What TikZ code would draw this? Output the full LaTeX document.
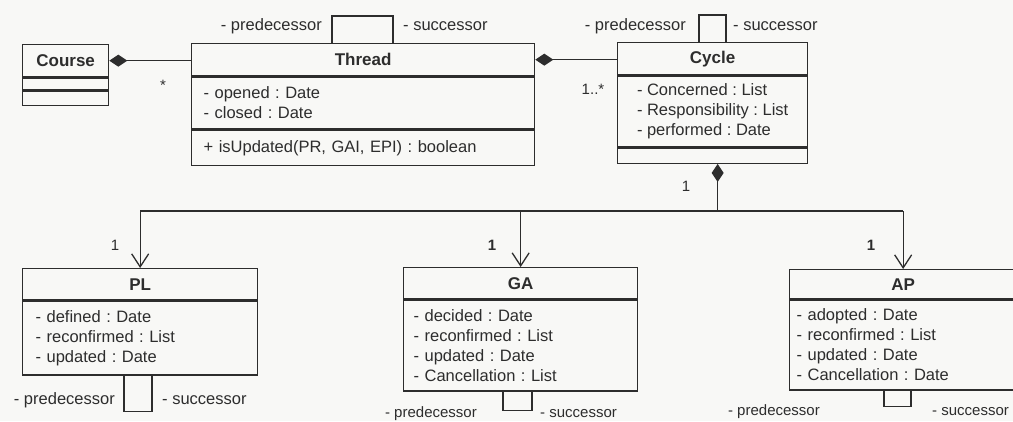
\documentclass[tikz,border=0pt]{standalone}
\usepackage{fontspec}
\setmainfont{Liberation Sans}
\usetikzlibrary{arrows.meta,calc}
\frenchspacing
\definecolor{ink}{RGB}{45,45,45}
\definecolor{paper}{RGB}{248,248,246}
\newcommand\umlattr{\fontsize{16.5}{20}\selectfont}
\newcommand\umltitle{\fontsize{17}{20}\selectfont\bfseries}
\newcommand\umlrole{\fontsize{16.5}{20}\selectfont}
\newcommand\umlrolesmall{\fontsize{15}{18}\selectfont}
\begin{document}
\begin{tikzpicture}[x=1pt,y=-1pt,
  every node/.style={text=ink},
  box/.style={draw=ink, line width=1.3pt, anchor=north west, inner sep=0pt},
  ttl/.style={box, font=\umltitle},
  att/.style={box, font=\umlattr, align=left},
  role/.style={font=\umlrole, inner sep=0pt},
  rolesm/.style={font=\umlrolesmall, inner sep=0pt},
  mult/.style={font=\fontsize{15}{18}\selectfont, inner sep=0pt},
  line/.style={draw=ink, line width=1.3pt},
  comp/.style={line, {Diamond[length=18pt,width=12pt]}-},
  nav/.style={line, -{Straight Barb[length=13pt,width=17pt]}},
]
\fill[paper] (0,0) rectangle (1013,421);
\useasboundingbox (0,0) rectangle (1013,421);
\clip (0,0) rectangle (1013,421);

% Course
\node[ttl, minimum width=86pt, minimum height=32pt] (courseT) at (22,44) {Course};
\node[box, minimum width=86pt, minimum height=12pt] (courseA) at (courseT.south west) {};
\node[box, minimum width=86pt, minimum height=14pt] (courseO) at (courseA.south west) {};

% Thread
\node[ttl, minimum width=343pt, minimum height=32pt] (threadT) at (191,43) {Thread};
\node[att, minimum width=343pt, minimum height=52pt, text width=319pt] (threadA) at (threadT.south west)
  {- opened : Date\\- closed : Date};
\node[att, minimum width=343pt, minimum height=35pt, text width=319pt] (threadO) at (threadA.south west)
  {+ isUpdated(PR, GAI, EPI) : boolean};

% Cycle
\node[ttl, minimum width=190pt, minimum height=32pt] (cycleT) at (617,42) {Cycle};
\node[att, minimum width=190pt, minimum height=71pt] (cycleA) at (cycleT.south west)
  {- Concerned : List\\- Responsibility : List\\- performed : Date};
\node[box, minimum width=190pt, minimum height=15pt] (cycleO) at (cycleA.south west) {};

% PL
\node[ttl, minimum width=235pt, minimum height=31pt] (plT) at (22,268) {PL};
\node[att, minimum width=235pt, minimum height=74pt, text width=209pt] (plA) at (plT.south west)
  {- defined : Date\\- reconfirmed : List\\- updated : Date};

% GA
\node[ttl, minimum width=234pt, minimum height=31pt] (gaT) at (403,267) {GA};
\node[att, minimum width=234pt, minimum height=91pt, text width=214pt] (gaA) at (gaT.south west)
  {- decided : Date\\- reconfirmed : List\\- updated : Date\\- Cancellation : List};

% AP
\node[ttl, minimum width=227pt, minimum height=29pt] (apT) at (789,269) {AP};
\node[att, minimum width=227pt, minimum height=90pt, text width=213pt] (apA) at (apT.south west)
  {- adopted : Date\\- reconfirmed : List\\- updated : Date\\- Cancellation : Date};

% compositions between the top classes
\draw[comp] (courseT.east) -- (courseT.east -| threadT.west);
\draw[comp] (threadT.east) -- (threadT.east -| cycleT.west);
\node[mult] (mStar) at (163,85) {*};
\node[mult] (mCyc) at (593,89) {1..*};

% composition from Cycle to PL, GA and AP
\coordinate (cycFoot) at ($(cycleO.south)+(5pt,0)$);
\coordinate (bus) at (0,211);
\draw[comp] (cycFoot) -- (cycFoot |- bus);
\draw[line] (plT.north |- bus) -- (apT.north |- bus);
\draw[nav] (plT.north |- bus) -- (plT.north);
\draw[nav] (gaT.north |- bus) -- (gaT.north);
\draw[nav] (apT.north |- bus) -- (apT.north);
\node[mult] (mCyc1) at (686,186) {1};
\node[mult] (mPL) at (115,245) {1};
\node[mult, font=\fontsize{15}{18}\selectfont\bfseries] (mGA) at (492,245) {1};
\node[mult, font=\fontsize{15}{18}\selectfont\bfseries] (mAP) at (871,245) {1};

% self associations
\draw[line] ([xshift=141pt]threadT.north west) -- ++(0,-27) -| ([xshift=202pt]threadT.north west);
\node[role, anchor=east] (thPred) at (322,26) {- predecessor};
\node[role, anchor=west] (thSucc) at (403,26) {- successor};

\draw[line] ([xshift=82pt]cycleT.north west) -- ++(0,-27) -| ([xshift=109pt]cycleT.north west);
\node[role, anchor=east] (cyPred) at (686,26) {- predecessor};
\node[role, anchor=west] (cySucc) at (733,26) {- successor};

\draw[line] ([xshift=102pt]plA.south west) -- ++(0,36) -| ([xshift=130pt]plA.south west);
\node[role, anchor=east] (plPred) at (115,400) {- predecessor};
\node[role, anchor=west] (plSucc) at (162,400) {- successor};

\draw[line] ([xshift=100pt]gaA.south west) -- ++(0,19) -| ([xshift=129pt]gaA.south west);
\node[rolesm, anchor=east] (gaPred) at (477,414) {- predecessor};
\node[rolesm, anchor=west] (gaSucc) at (540,414) {- successor};

\draw[line] ([xshift=95pt]apA.south west) -- ++(0,16) -| ([xshift=122pt]apA.south west);
\node[rolesm, anchor=east] (apPred) at (820,412) {- predecessor};
\node[rolesm, anchor=west] (apSucc) at (932,412) {- successor};
\end{tikzpicture}
\end{document}
